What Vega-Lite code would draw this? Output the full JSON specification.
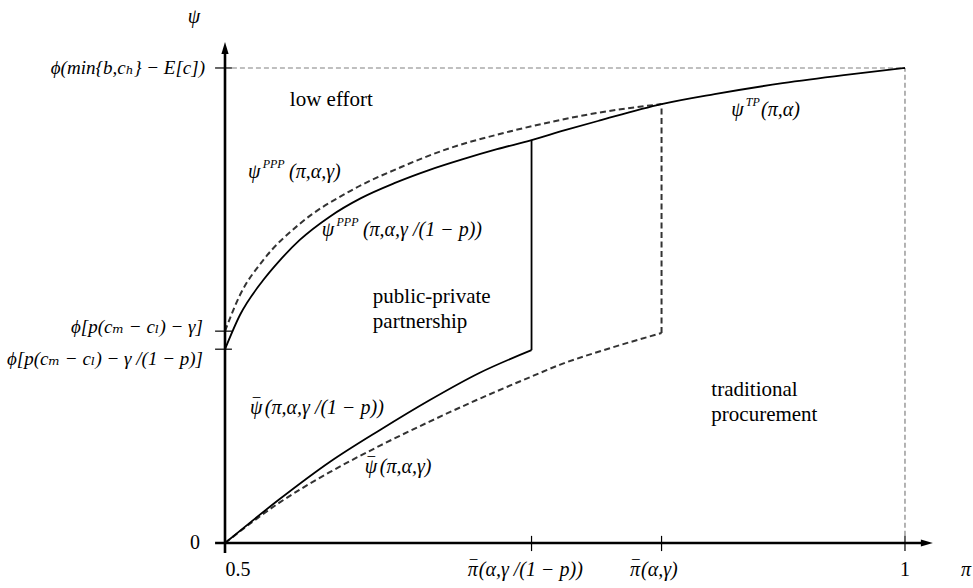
{
  "$schema": "https://vega.github.io/schema/vega-lite/v6.json",
  "width": 708,
  "height": 501,
  "autosize": {"type": "none"},
  "padding": {"left": 225, "top": 42, "right": 40, "bottom": 45},
  "background": "white",
  "config": {"view": {"stroke": null}},
  "datasets": {
    "curves": [
      {"curve": "psi_ppp_tp", "x": 0.5, "y": 0.408},
      {"curve": "psi_ppp_tp", "x": 0.511, "y": 0.48},
      {"curve": "psi_ppp_tp", "x": 0.528, "y": 0.553},
      {"curve": "psi_ppp_tp", "x": 0.54, "y": 0.594},
      {"curve": "psi_ppp_tp", "x": 0.555, "y": 0.638},
      {"curve": "psi_ppp_tp", "x": 0.577, "y": 0.687},
      {"curve": "psi_ppp_tp", "x": 0.6, "y": 0.726},
      {"curve": "psi_ppp_tp", "x": 0.625, "y": 0.758},
      {"curve": "psi_ppp_tp", "x": 0.65, "y": 0.785},
      {"curve": "psi_ppp_tp", "x": 0.675, "y": 0.808},
      {"curve": "psi_ppp_tp", "x": 0.7, "y": 0.829},
      {"curve": "psi_ppp_tp", "x": 0.7254, "y": 0.848},
      {"curve": "psi_ppp_tp", "x": 0.75, "y": 0.869},
      {"curve": "psi_ppp_tp", "x": 0.775, "y": 0.889},
      {"curve": "psi_ppp_tp", "x": 0.821, "y": 0.924},
      {"curve": "psi_ppp_tp", "x": 0.86, "y": 0.945},
      {"curve": "psi_ppp_tp", "x": 0.91, "y": 0.968},
      {"curve": "psi_ppp_tp", "x": 0.955, "y": 0.985},
      {"curve": "psi_ppp_tp", "x": 1.0, "y": 1.0},
      {"curve": "psi_ppp_gamma", "x": 0.5, "y": 0.446},
      {"curve": "psi_ppp_gamma", "x": 0.511, "y": 0.522},
      {"curve": "psi_ppp_gamma", "x": 0.528, "y": 0.595},
      {"curve": "psi_ppp_gamma", "x": 0.555, "y": 0.672},
      {"curve": "psi_ppp_gamma", "x": 0.592, "y": 0.741},
      {"curve": "psi_ppp_gamma", "x": 0.63, "y": 0.792},
      {"curve": "psi_ppp_gamma", "x": 0.665, "y": 0.831},
      {"curve": "psi_ppp_gamma", "x": 0.702, "y": 0.861},
      {"curve": "psi_ppp_gamma", "x": 0.739, "y": 0.886},
      {"curve": "psi_ppp_gamma", "x": 0.775, "y": 0.906},
      {"curve": "psi_ppp_gamma", "x": 0.821, "y": 0.924},
      {"curve": "psibar_gamma_p", "x": 0.5, "y": 0.0},
      {"curve": "psibar_gamma_p", "x": 0.54, "y": 0.092},
      {"curve": "psibar_gamma_p", "x": 0.577, "y": 0.1705},
      {"curve": "psibar_gamma_p", "x": 0.614, "y": 0.238},
      {"curve": "psibar_gamma_p", "x": 0.65, "y": 0.3},
      {"curve": "psibar_gamma_p", "x": 0.687, "y": 0.358},
      {"curve": "psibar_gamma_p", "x": 0.7254, "y": 0.406},
      {"curve": "psibar_gamma", "x": 0.5, "y": 0.0},
      {"curve": "psibar_gamma", "x": 0.54, "y": 0.085},
      {"curve": "psibar_gamma", "x": 0.577, "y": 0.149},
      {"curve": "psibar_gamma", "x": 0.614, "y": 0.205},
      {"curve": "psibar_gamma", "x": 0.65, "y": 0.255},
      {"curve": "psibar_gamma", "x": 0.685, "y": 0.301},
      {"curve": "psibar_gamma", "x": 0.725, "y": 0.35},
      {"curve": "psibar_gamma", "x": 0.746, "y": 0.375},
      {"curve": "psibar_gamma", "x": 0.783, "y": 0.41},
      {"curve": "psibar_gamma", "x": 0.821, "y": 0.442}
    ],
    "segments": [
      {"part": "axis", "x": 0.5, "x2": 0.5, "y": -0.021, "y2": 1.03},
      {"part": "axis", "x": 0.4927, "x2": 1.012, "y": 0, "y2": 0},
      {"part": "tick", "x": 0.4927, "x2": 0.5051, "y": 1.0, "y2": 1.0},
      {"part": "tick", "x": 0.4927, "x2": 0.5051, "y": 0.446, "y2": 0.446},
      {"part": "tick", "x": 0.4927, "x2": 0.5051, "y": 0.408, "y2": 0.408},
      {"part": "tick", "x": 0.7254, "x2": 0.7254, "y": -0.017, "y2": 0.015},
      {"part": "tick", "x": 0.821, "x2": 0.821, "y": -0.017, "y2": 0.015},
      {"part": "tick", "x": 1.0, "x2": 1.0, "y": -0.017, "y2": 0.015},
      {"part": "ppp_threshold", "x": 0.7254, "x2": 0.7254, "y": 0.406, "y2": 0.848},
      {"part": "tp_threshold", "x": 0.821, "x2": 0.821, "y": 0.442, "y2": 0.924},
      {"part": "guide", "x": 0.5051, "x2": 1.0, "y": 1.0, "y2": 1.0},
      {"part": "guide", "x": 1.0, "x2": 1.0, "y": 0.015, "y2": 1.0}
    ],
    "arrows": [
      {"dir": "up", "x": 0.5, "y": 1.0421},
      {"dir": "right", "x": 1.0161, "y": 0}
    ],
    "labels": [
      {"role": "region", "text": "low effort", "x": 0.5477, "y": 0.9326},
      {"role": "region", "text": "public-private", "x": 0.6087, "y": 0.5179},
      {"role": "region", "text": "partnership", "x": 0.6087, "y": 0.4653},
      {"role": "region", "text": "traditional", "x": 0.8576, "y": 0.3221},
      {"role": "region", "text": "procurement", "x": 0.8576, "y": 0.2695},
      {"role": "math", "text": "\u03c8", "x": 0.5169, "y": 0.7811},
      {"role": "sup", "text": "PPP", "x": 0.5277, "y": 0.798},
      {"role": "math", "text": "(\u03c0,\u03b1,\u03b3)", "x": 0.5471, "y": 0.7811},
      {"role": "math", "text": "\u03c8", "x": 0.5712, "y": 0.6589},
      {"role": "sup", "text": "PPP", "x": 0.582, "y": 0.676},
      {"role": "math", "text": "(\u03c0,\u03b1,\u03b3 /(1 \u2212 p))", "x": 0.6014, "y": 0.6589},
      {"role": "math", "text": "\u03c8", "x": 0.8722, "y": 0.9116},
      {"role": "sup", "text": "TP", "x": 0.883, "y": 0.9285},
      {"role": "math", "text": "(\u03c0,\u03b1)", "x": 0.8942, "y": 0.9116},
      {"role": "math", "text": "\u03c8", "x": 0.5184, "y": 0.2842},
      {"role": "bar", "text": "\u203e", "x": 0.5208, "y": 0.2842},
      {"role": "math", "text": "(\u03c0,\u03b1,\u03b3 /(1 \u2212 p))", "x": 0.5293, "y": 0.2842},
      {"role": "math", "text": "\u03c8", "x": 0.6028, "y": 0.16},
      {"role": "bar", "text": "\u203e", "x": 0.6052, "y": 0.16},
      {"role": "math", "text": "(\u03c0,\u03b1,\u03b3)", "x": 0.6138, "y": 0.16},
      {"role": "math", "text": "\u03c0", "x": 0.6785, "y": -0.0568},
      {"role": "bar", "text": "\u203e", "x": 0.6803, "y": -0.0568},
      {"role": "math", "text": "(\u03b1,\u03b3 /(1 \u2212 p))", "x": 0.6866, "y": -0.0568},
      {"role": "math", "text": "\u03c0", "x": 0.7978, "y": -0.0568},
      {"role": "bar", "text": "\u203e", "x": 0.7996, "y": -0.0568},
      {"role": "math", "text": "(\u03b1,\u03b3)", "x": 0.8059, "y": -0.0568},
      {"role": "y-tick", "text": "\u03d5(min{b,c\u2095} \u2212 E[c])", "x": 0.4853, "y": 1.0},
      {"role": "y-tick", "text": "\u03d5[p(c\u2098 \u2212 c\u2097) \u2212 \u03b3]", "x": 0.4838, "y": 0.4547},
      {"role": "y-tick", "text": "\u03d5[p(c\u2098 \u2212 c\u2097) \u2212 \u03b3 /(1 \u2212 p)]", "x": 0.4838, "y": 0.3874},
      {"role": "num-right", "text": "0", "x": 0.4816, "y": 0.0},
      {"role": "num-center", "text": "0.5", "x": 0.5095, "y": -0.0568},
      {"role": "num-center", "text": "1", "x": 1.0, "y": -0.0568},
      {"role": "axis-title", "text": "\u03c8", "x": 0.4772, "y": 1.108},
      {"role": "axis-title", "text": "\u03c0", "x": 1.0448, "y": -0.0568}
    ]
  },
  "encoding": {
    "x": {"field": "x", "type": "quantitative", "scale": {"domain": [0.5, 1.0206], "nice": false, "zero": false}, "axis": null},
    "y": {"field": "y", "type": "quantitative", "scale": {"domain": [0, 1.0547], "nice": false, "zero": false}, "axis": null}
  },
  "layer": [
    {
      "data": {"name": "segments"},
      "transform": [{"filter": {"field": "part", "equal": "guide"}}],
      "mark": {"type": "rule", "color": "#808080", "strokeWidth": 1.2, "strokeDash": [5, 3]},
      "encoding": {"x2": {"field": "x2"}, "y2": {"field": "y2"}}
    },
    {
      "data": {"name": "curves"},
      "transform": [{"filter": {"field": "curve", "oneOf": ["psi_ppp_gamma", "psibar_gamma"]}}],
      "mark": {"type": "line", "color": "#333333", "strokeWidth": 2, "strokeDash": [6, 3.5], "interpolate": "monotone"},
      "encoding": {"detail": {"field": "curve"}}
    },
    {
      "data": {"name": "segments"},
      "transform": [{"filter": {"field": "part", "equal": "tp_threshold"}}],
      "mark": {"type": "rule", "color": "#333333", "strokeWidth": 2, "strokeDash": [6, 3.5]},
      "encoding": {"x2": {"field": "x2"}, "y2": {"field": "y2"}}
    },
    {
      "data": {"name": "curves"},
      "transform": [{"filter": {"field": "curve", "oneOf": ["psi_ppp_tp", "psibar_gamma_p"]}}],
      "mark": {"type": "line", "color": "black", "strokeWidth": 1.8, "interpolate": "monotone"},
      "encoding": {"detail": {"field": "curve"}}
    },
    {
      "data": {"name": "segments"},
      "transform": [{"filter": {"field": "part", "equal": "ppp_threshold"}}],
      "mark": {"type": "rule", "color": "black", "strokeWidth": 1.8},
      "encoding": {"x2": {"field": "x2"}, "y2": {"field": "y2"}}
    },
    {
      "data": {"name": "segments"},
      "transform": [{"filter": {"field": "part", "equal": "tick"}}],
      "mark": {"type": "rule", "color": "black", "strokeWidth": 1.2},
      "encoding": {"x2": {"field": "x2"}, "y2": {"field": "y2"}}
    },
    {
      "data": {"name": "segments"},
      "transform": [{"filter": {"field": "part", "equal": "axis"}}],
      "mark": {"type": "rule", "color": "black", "strokeWidth": 2.6},
      "encoding": {"x2": {"field": "x2"}, "y2": {"field": "y2"}}
    },
    {
      "data": {"name": "arrows"},
      "transform": [{"filter": {"field": "dir", "equal": "up"}}],
      "mark": {"type": "point", "filled": true, "opacity": 1, "color": "black", "size": 144, "shape": "M -0.6 1 L 0 -1 L 0.6 1 Z"}
    },
    {
      "data": {"name": "arrows"},
      "transform": [{"filter": {"field": "dir", "equal": "right"}}],
      "mark": {"type": "point", "filled": true, "opacity": 1, "color": "black", "size": 144, "shape": "M -1 -0.6 L 1 0 L -1 0.6 Z"}
    },
    {
      "data": {"name": "labels"},
      "transform": [{"filter": {"field": "role", "equal": "region"}}],
      "mark": {"type": "text", "font": "Liberation Serif, Times New Roman, DejaVu Serif, serif", "fontSize": 21, "align": "left", "baseline": "middle", "color": "black"},
      "encoding": {"text": {"field": "text"}}
    },
    {
      "data": {"name": "labels"},
      "transform": [{"filter": {"field": "role", "equal": "math"}}],
      "mark": {"type": "text", "font": "Liberation Serif, Times New Roman, DejaVu Serif, serif", "fontStyle": "italic", "fontSize": 20, "align": "left", "baseline": "middle", "color": "black"},
      "encoding": {"text": {"field": "text"}}
    },
    {
      "data": {"name": "labels"},
      "transform": [{"filter": {"field": "role", "equal": "bar"}}],
      "mark": {"type": "text", "font": "Liberation Serif, Times New Roman, DejaVu Serif, serif", "fontSize": 20, "align": "left", "baseline": "middle", "color": "black"},
      "encoding": {"text": {"field": "text"}}
    },
    {
      "data": {"name": "labels"},
      "transform": [{"filter": {"field": "role", "equal": "sup"}}],
      "mark": {"type": "text", "font": "Liberation Serif, Times New Roman, DejaVu Serif, serif", "fontStyle": "italic", "fontSize": 12, "align": "left", "baseline": "middle", "color": "black"},
      "encoding": {"text": {"field": "text"}}
    },
    {
      "data": {"name": "labels"},
      "transform": [{"filter": {"field": "role", "equal": "y-tick"}}],
      "mark": {"type": "text", "font": "Liberation Serif, Times New Roman, DejaVu Serif, serif", "fontStyle": "italic", "fontSize": 19, "align": "right", "baseline": "middle", "color": "black"},
      "encoding": {"text": {"field": "text"}}
    },
    {
      "data": {"name": "labels"},
      "transform": [{"filter": {"field": "role", "equal": "num-right"}}],
      "mark": {"type": "text", "font": "Liberation Serif, Times New Roman, DejaVu Serif, serif", "fontSize": 20, "align": "right", "baseline": "middle", "color": "black"},
      "encoding": {"text": {"field": "text"}}
    },
    {
      "data": {"name": "labels"},
      "transform": [{"filter": {"field": "role", "equal": "num-center"}}],
      "mark": {"type": "text", "font": "Liberation Serif, Times New Roman, DejaVu Serif, serif", "fontSize": 20, "align": "center", "baseline": "middle", "color": "black"},
      "encoding": {"text": {"field": "text"}}
    },
    {
      "data": {"name": "labels"},
      "transform": [{"filter": {"field": "role", "equal": "axis-title"}}],
      "mark": {"type": "text", "font": "Liberation Serif, Times New Roman, DejaVu Serif, serif", "fontStyle": "italic", "fontSize": 20, "align": "center", "baseline": "middle", "color": "black"},
      "encoding": {"text": {"field": "text"}}
    }
  ]
}
